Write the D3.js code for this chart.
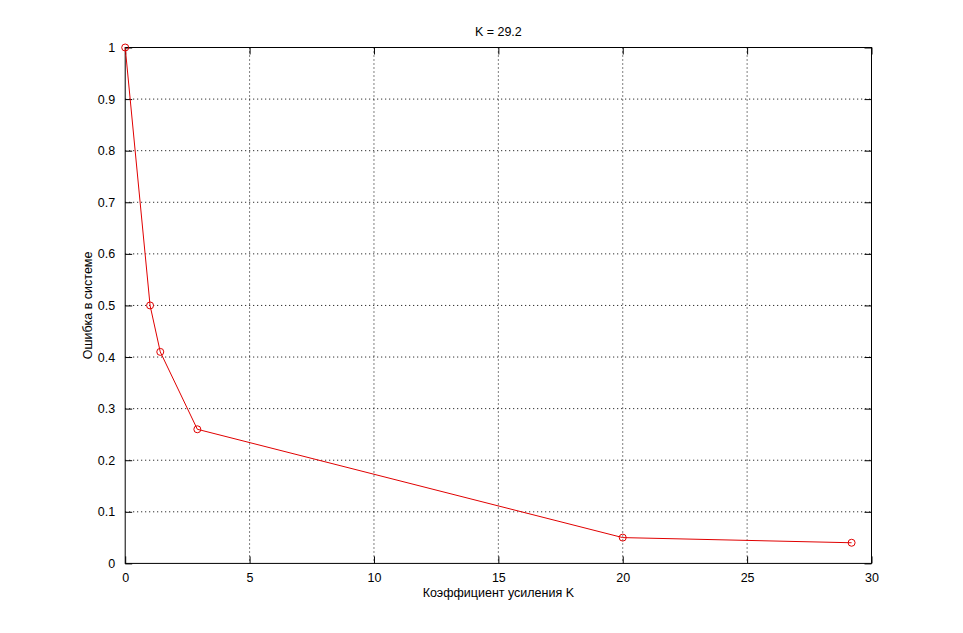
<!DOCTYPE html>
<html><head><meta charset="utf-8">
<script src="https://cdn.jsdelivr.net/npm/d3@7"></script>
<style>body{margin:0;background:#fff}svg{display:block}text{font-family:"Liberation Sans",Arial,sans-serif}</style>
</head><body>
<svg id="c" width="963" height="633"></svg>
<script>
const kValues = [0, 1, 1.41, 2.9, 20, 29.2];
const errValues = [1, 0.5, 0.41, 0.26, 0.05, 0.04];
const xTicks = [0, 5, 10, 15, 20, 25, 30];
const yTicks = [0, 0.1, 0.2, 0.3, 0.4, 0.5, 0.6, 0.7, 0.8, 0.9, 1];
const titleText = "K = 29.2";
const xLabel = "Коэффициент усиления K";
const yLabel = "Ошибка в системе";

const W = 963, H = 633;
const L = 125.2, R = 871.5, T = 47.5, B = 563.4;
const svg = d3.select("#c");
svg.append("rect").attr("width", W).attr("height", H).attr("fill", "#fff");
const x = d3.scaleLinear().domain([0, 30]).range([L, R]);
const y = d3.scaleLinear().domain([0, 1]).range([B, T]);
const fs = 12.5;

// grid
const g = svg.append("g");
g.selectAll(".gx").data(xTicks.slice(1, -1)).enter().append("line")
  .attr("x1", d => x(d)).attr("x2", d => x(d)).attr("y1", T).attr("y2", B)
  .attr("stroke", "#000").attr("stroke-width", 1).attr("stroke-dasharray", "1,3");
g.selectAll(".gy").data(yTicks.slice(1, -1)).enter().append("line")
  .attr("y1", d => y(d)).attr("y2", d => y(d)).attr("x1", L).attr("x2", R)
  .attr("stroke", "#000").attr("stroke-width", 1).attr("stroke-dasharray", "1,3");

// axes with inward ticks
const tl = 7;
svg.append("g").attr("transform", `translate(0,${B})`)
  .call(d3.axisBottom(x).tickValues(xTicks).tickSize(-tl).tickPadding(tl + 3).tickFormat(d3.format("d")))
  .call(s => s.select(".domain").remove());
svg.append("g").attr("transform", `translate(0,${T})`)
  .call(d3.axisTop(x).tickValues(xTicks).tickSize(-tl).tickFormat(""))
  .call(s => s.select(".domain").remove());
svg.append("g").attr("transform", `translate(${L},0)`)
  .call(d3.axisLeft(y).tickValues(yTicks).tickSize(-tl).tickPadding(tl + 3).tickFormat(d => d === 0 || d === 1 ? d3.format("d")(d) : d3.format(".1f")(d)))
  .call(s => s.select(".domain").remove());
svg.append("g").attr("transform", `translate(${R},0)`)
  .call(d3.axisRight(y).tickValues(yTicks).tickSize(-tl).tickFormat(""))
  .call(s => s.select(".domain").remove());
svg.selectAll(".tick text").attr("font-size", fs).attr("fill", "#000")
  .attr("font-family", "'Liberation Sans',Arial,sans-serif");
svg.selectAll(".tick line").attr("stroke", "#000");
svg.append("rect").attr("x", L).attr("y", T).attr("width", R - L).attr("height", B - T)
  .attr("fill", "none").attr("stroke", "#000").attr("stroke-width", 1);

// data
const pts = kValues.map((k, i) => [k, errValues[i]]);
svg.append("path").datum(pts)
  .attr("d", d3.line().x(d => x(d[0])).y(d => y(d[1])))
  .attr("fill", "none").attr("stroke", "#e00000").attr("stroke-width", 1);
svg.selectAll(".m").data(pts).enter().append("circle")
  .attr("cx", d => x(d[0])).attr("cy", d => y(d[1])).attr("r", 3.5)
  .attr("fill", "none").attr("stroke", "#e00000").attr("stroke-width", 1);

// texts
svg.append("text").attr("x", (L + R) / 2).attr("y", 36).attr("text-anchor", "middle")
  .attr("font-size", fs).text(titleText);
svg.append("text").attr("x", (L + R) / 2).attr("y", 597).attr("text-anchor", "middle")
  .attr("font-size", fs).text(xLabel);
svg.append("text").attr("transform", `translate(92,${(T + B) / 2}) rotate(-90)`)
  .attr("text-anchor", "middle").attr("font-size", fs).text(yLabel);
</script>
</body></html>
